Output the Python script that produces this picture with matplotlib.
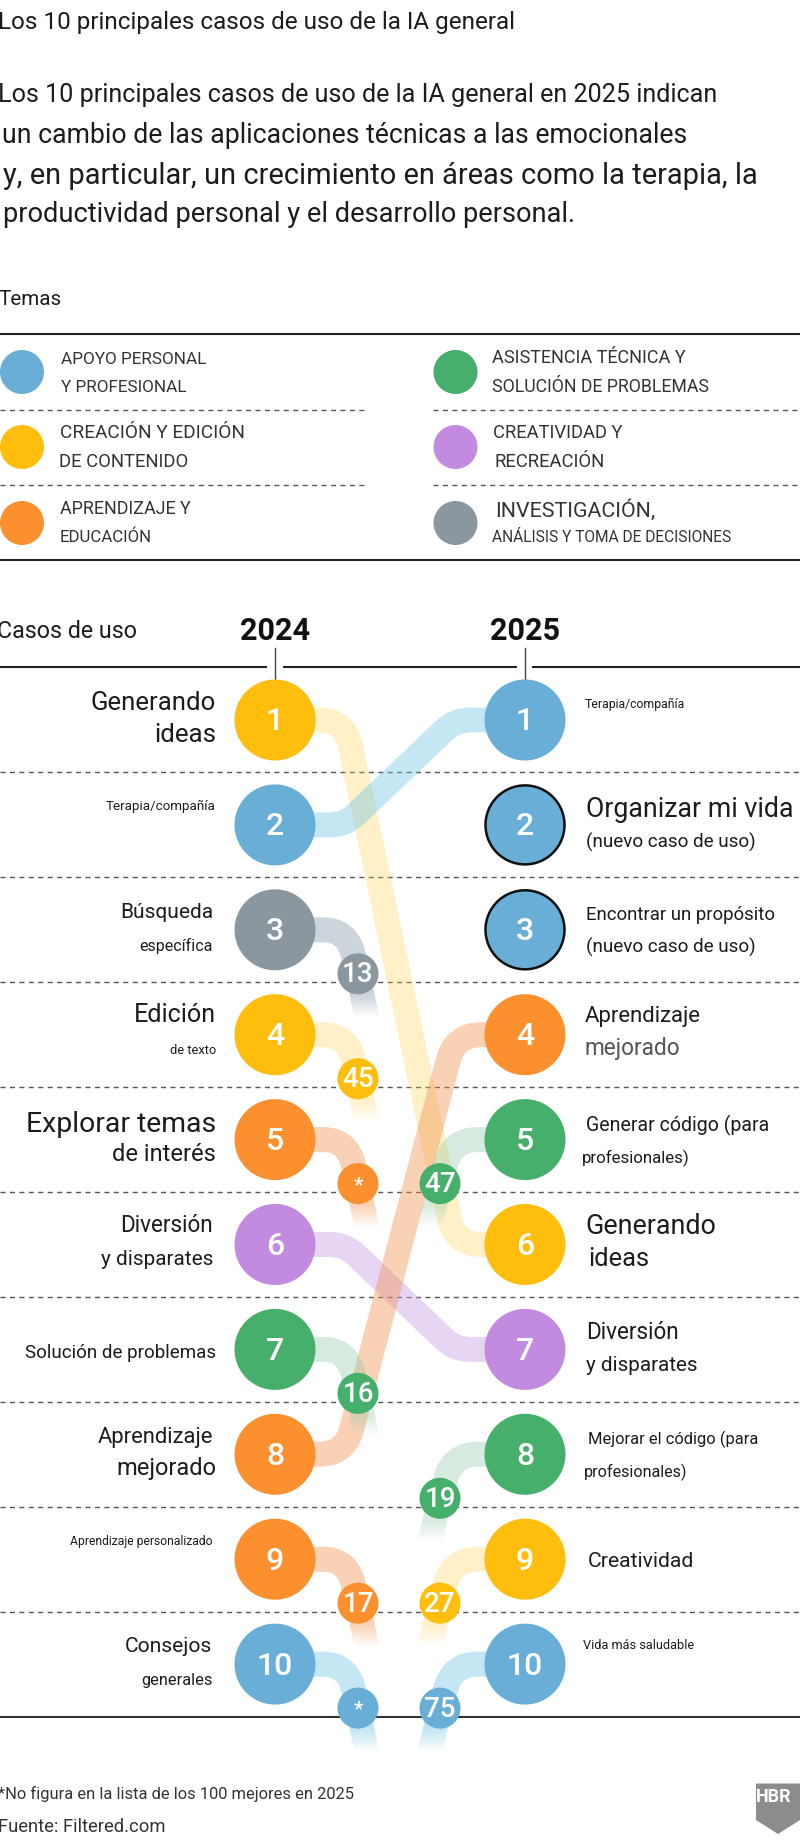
import numpy as np
import matplotlib
matplotlib.use('Agg')
import matplotlib.pyplot as plt
from matplotlib.path import Path
from matplotlib.patches import Circle, PathPatch, Polygon

# data
title = 'Los 10 principales casos de uso de la IA general'
intro = ['Los 10 principales casos de uso de la IA general en 2025 indican',
         'un cambio de las aplicaciones técnicas a las emocionales',
         'y, en particular, un crecimiento en áreas como la terapia, la',
         'productividad personal y el desarrollo personal.']
theme_names = ['blue', 'yellow', 'orange', 'green', 'purple', 'grey']
theme_labels = [('APOYO PERSONAL', 'Y PROFESIONAL'),
                ('CREACIÓN Y EDICIÓN', 'DE CONTENIDO'),
                ('APRENDIZAJE Y', 'EDUCACIÓN'),
                ('ASISTENCIA TÉCNICA Y', 'SOLUCIÓN DE PROBLEMAS'),
                ('CREATIVIDAD Y', 'RECREACIÓN'),
                ('INVESTIGACIÓN,', 'ANÁLISIS Y TOMA DE DECISIONES')]

years = ['2024', '2025']
ranks = [1, 2, 3, 4, 5, 6, 7, 8, 9, 10]
themes_2024 = ['yellow', 'blue', 'grey', 'yellow', 'orange', 'purple', 'green', 'orange', 'orange', 'blue']
themes_2025 = ['blue', 'blue', 'blue', 'orange', 'green', 'yellow', 'purple', 'green', 'yellow', 'blue']
new_in_2025 = [2, 3]

labels_2024 = [('Generando', 'ideas'), ('Terapia/compañía',), ('Búsqueda', 'específica'),
               ('Edición', 'de texto'), ('Explorar temas', 'de interés'), ('Diversión', 'y disparates'),
               ('Solución de problemas',), ('Aprendizaje', 'mejorado'), ('Aprendizaje personalizado',),
               ('Consejos', 'generales')]
labels_2025 = [('Terapia/compañía',), ('Organizar mi vida', '(nuevo caso de uso)'),
               ('Encontrar un propósito', '(nuevo caso de uso)'), ('Aprendizaje', 'mejorado'),
               ('Generar código (para', 'profesionales)'), ('Generando', 'ideas'),
               ('Diversión', 'y disparates'), ('Mejorar el código (para', 'profesionales)'),
               ('Creatividad',), ('Vida más saludable',)]

# rank 2024 -> rank 2025, both inside the top 10
moves_from = [1, 2, 6, 8]
moves_to = [6, 1, 7, 4]
# rank 2024 -> where it went, outside the top 10
left_ranks = [3, 4, 5, 7, 9, 10]
left_values = ['13', '45', '*', '16', '17', '*']
# rank 2025 <- where it came from, outside the top 10
came_ranks = [5, 8, 9, 10]
came_values = ['47', '19', '27', '75']

footnote = '*No figura en la lista de los 100 mejores en 2025'
source = 'Fuente: Filtered.com'

colors = {'blue': '#69AED6', 'yellow': '#FFBE0D', 'orange': '#FC8F2E',
          'green': '#46AF6B', 'purple': '#C28BDF', 'grey': '#8A979F'}
ribbon_colors = {'blue': '#74C6E3', 'yellow': '#FFCF4A', 'orange': '#F2904A',
                 'green': '#8CC4A2', 'purple': '#C69BE6', 'grey': '#8FA2B0'}
ribbon_alpha = {'blue': 0.42, 'yellow': 0.30, 'orange': 0.40,
                'green': 0.34, 'purple': 0.42, 'grey': 0.45}

plt.rcParams['font.family'] = ['Roboto', 'DejaVu Sans']

fig = plt.figure(figsize=(8, 18.41), dpi=100)
ax = fig.add_axes([0, 0, 1, 1])
ink = '#1c1c1c'
renderer = fig.canvas.get_renderer()


def put(x, y, s, width, ha='left', color=ink, **kw):
    # font size is fitted so the text takes the given width in pixels
    t = ax.text(x, y + 1.5, s, ha=ha, va='center', color=color, fontsize=20, zorder=8, **kw)
    t.set_fontsize(20 * width / t.get_window_extent(renderer).width)
    return t


def row_y(rank):
    return 720 + 104.9 * (rank - 1)


def hline(y, x0=0, x1=800, dashed=False, color='#222222', lw=1.5):
    if dashed:
        ax.plot([x0, x1], [y, y], color='#555555', lw=1.0, dashes=(3.6, 3.2), zorder=1)
    else:
        ax.plot([x0, x1], [y, y], color=color, lw=lw, zorder=1, solid_capstyle='butt')


# header text
put(-2, 21, title, 518)
intro_x = [-2, 2, 3, 3]
intro_y = [93, 134, 174, 213]
intro_w = [719, 684, 751, 572]
for s, x, y, w in zip(intro, intro_x, intro_y, intro_w):
    put(x, y, s, w)
put(-2, 298, 'Temas', 63)

# legend
hline(334)
hline(560)
for y in [409.5, 484.5]:
    hline(y, 0, 367, dashed=True)
    hline(y, 433, 800, dashed=True)
legend_x = [22, 22, 22, 455.5, 455.5, 455.5]
legend_y = [372, 447, 523, 372, 447, 523]
legend_text_x = [(61, 61), (60, 59), (60, 60), (492, 492), (493, 494), (495, 492)]
legend_text_y = [(358, 385.5), (431, 460), (507, 536), (356, 385.5), (431, 460), (509, 535.5)]
legend_text_w = [(146, 126), (185, 130), (131, 92), (194, 217), (130, 111), (161, 241)]
for i, name in enumerate(theme_names):
    ax.add_patch(Circle((legend_x[i], legend_y[i]), 22, fc=colors[name], ec='none', zorder=3))
    for j in range(2):
        put(legend_text_x[i][j], legend_text_y[i][j], theme_labels[i][j], legend_text_w[i][j], color='#333333')

# chart frame
x24, x25 = 275, 525
knee24, knee25 = 345, 455
put(-3, 630, 'Casos de uso', 140)
for x, year in zip([x24, x25], years):
    put(x, 630, year, 70, ha='center', fontweight='bold', color='#111111')
    ax.plot([x, x], [648, 690], color='#444444', lw=1.0, zorder=1)
hline(667, 0, 267)
hline(667, 283, 517)
hline(667, 532, 800)
hline(1717, color='#333333')
for r in ranks[:-1]:
    hline((row_y(r) + row_y(r + 1)) / 2, dashed=True)


def draw_ribbon(verts, codes, name):
    ax.add_patch(PathPatch(Path(verts, codes), fc='none', ec=ribbon_colors[name], lw=18,
                           alpha=ribbon_alpha[name], capstyle='butt', joinstyle='round', zorder=2))


def long_ribbon(r0, r1, name):
    y0, y1 = row_y(r0), row_y(r1)
    length = np.hypot(knee25 - knee24, y1 - y0)
    # the steep ribbons turn further, so their corners are longer
    corner = 26 if abs(y1 - y0) > 300 else 15
    t = corner / length
    a = (knee24 + (knee25 - knee24) * t, y0 + (y1 - y0) * t)
    b = (knee25 - (knee25 - knee24) * t, y1 - (y1 - y0) * t)
    verts = [(x24, y0), (knee24 - corner, y0), (knee24, y0), a, b, (knee25, y1), (knee25 + corner, y1), (x25, y1)]
    codes = [Path.MOVETO, Path.LINETO, Path.CURVE3, Path.CURVE3, Path.LINETO, Path.CURVE3, Path.CURVE3, Path.LINETO]
    draw_ribbon(verts, codes, name)


def short_ribbon(rank, name, x_start, x_knee, x_bubble):
    y = row_y(rank)
    side = 1 if x_knee > x_start else -1
    y_b = y + 44
    verts = [(x_start, y), (x_knee - side * 24, y), (x_knee, y),
             (x_knee + (x_bubble - x_knee) * 0.55, y + 24), (x_bubble, y_b)]
    codes = [Path.MOVETO, Path.LINETO, Path.CURVE3, Path.CURVE3, Path.LINETO]
    draw_ribbon(verts, codes, name)
    # tail that fades out under the bubble
    half = 12.5
    alpha = ribbon_alpha[name]
    grad = np.zeros((40, 2, 4))
    grad[..., :3] = matplotlib.colors.to_rgb(ribbon_colors[name])
    grad[..., 3] = np.interp(np.linspace(0, 1, 40), [0, 0.5, 1], [alpha, alpha, 0])[:, None]
    y_tail = y_b + 44
    x_tail = x_bubble + (x_bubble - x_knee) * 0.8
    im = ax.imshow(grad, extent=[min(x_bubble, x_tail) - 20, max(x_bubble, x_tail) + 20, y_tail, y_b],
                   aspect='auto', zorder=2, interpolation='bilinear')
    clip = Polygon([(x_bubble - half, y_b), (x_bubble + half, y_b), (x_tail + half, y_tail), (x_tail - half, y_tail)],
                   transform=ax.transData, fc='none', ec='none')
    ax.add_patch(clip)
    im.set_clip_path(clip)


def bubble(x, y, value, name):
    ax.add_patch(Circle((x, y), 20.5, fc=colors[name], ec='none', zorder=5))
    if value == '*':
        ax.text(x, y + 2, value, color='white', fontsize=15, fontweight='bold', ha='center', va='center', zorder=6)
    else:
        ax.text(x, y + 1, value, color='white', fontsize=20, fontweight='medium', ha='center', va='center', zorder=6)


for r0, r1 in zip(moves_from, moves_to):
    long_ribbon(r0, r1, themes_2024[r0 - 1])

for r, v in zip(left_ranks, left_values):
    name = themes_2024[r - 1]
    short_ribbon(r, name, x24, 347, 358)
    bubble(358, row_y(r) + 44, v, name)

for r, v in zip(came_ranks, came_values):
    name = themes_2025[r - 1]
    short_ribbon(r, name, x25, 453, 440)
    bubble(440, row_y(r) + 44, v, name)

for r in ranks:
    y = row_y(r)
    ax.add_patch(Circle((x24, y), 40.5, fc=colors[themes_2024[r - 1]], ec='none', zorder=5))
    ax.text(x24, y + 2, str(r), color='white', fontsize=23, fontweight='medium', ha='center', va='center', zorder=6)
    edge = '#111111' if r in new_in_2025 else 'none'
    ax.add_patch(Circle((x25, y), 39.5 if r in new_in_2025 else 40.5, fc=colors[themes_2025[r - 1]],
                        ec=edge, lw=1.8, zorder=5))
    ax.text(x25, y + 2, str(r), color='white', fontsize=23, fontweight='medium', ha='center', va='center', zorder=6)

# row labels, one (x, y, width) per text line
place_2024 = [[(216, 701, 125), (216, 733, 62)],
              [(216, 805, 109)],
              [(213, 911, 93), (213, 944, 73)],
              [(216, 1013, 82), (216, 1049, 46)],
              [(216, 1122.5, 190), (216, 1153, 103)],
              [(213, 1224.5, 93), (213, 1258, 112)],
              [(216, 1351.5, 190)],
              [(213, 1435.5, 115), (216, 1467, 100)],
              [(212, 1540, 142)],
              [(212, 1645, 87), (213, 1679, 71)]]
place_2025 = [[(585, 703, 100)],
              [(586, 808, 207), (586, 841, 170)],
              [(586, 913.5, 189), (586, 946, 170)],
              [(585, 1015, 116), (584, 1047, 96)],
              [(586, 1124, 183), (581.5, 1157, 108)],
              [(585, 1224.5, 130), (588, 1258, 61)],
              [(586, 1331, 93), (586, 1364, 111)],
              [(588, 1438, 170), (584, 1471, 103)],
              [(588, 1560, 106)],
              [(583, 1643.6, 111)]]
for lines, places in zip(labels_2024, place_2024):
    for s, (x, y, w) in zip(lines, places):
        put(x, y, s, w, ha='right')
for i, (lines, places) in enumerate(zip(labels_2025, place_2025)):
    for j, (s, (x, y, w)) in enumerate(zip(lines, places)):
        put(x, y, s, w, color='#555555' if (i == 3 and j == 1) else ink)

# footer
put(-2, 1792, footnote, 356, color='#333333')
put(-2, 1826, source, 167, color='#333333')
shield = [(756, 1783.5), (800, 1783.5), (800, 1820), (778, 1834), (756, 1820)]
ax.add_patch(Polygon(shield, closed=True, fc='#8C8C8C', ec='none', zorder=3))
ax.text(774, 1797, 'HBR', color='white', fontsize=13, fontweight='bold', ha='center', va='center', zorder=6)

ax.set_xlim(0, 800)
ax.set_ylim(1841, 0)
ax.axis('off')
fig.savefig('out.png', dpi=100)
